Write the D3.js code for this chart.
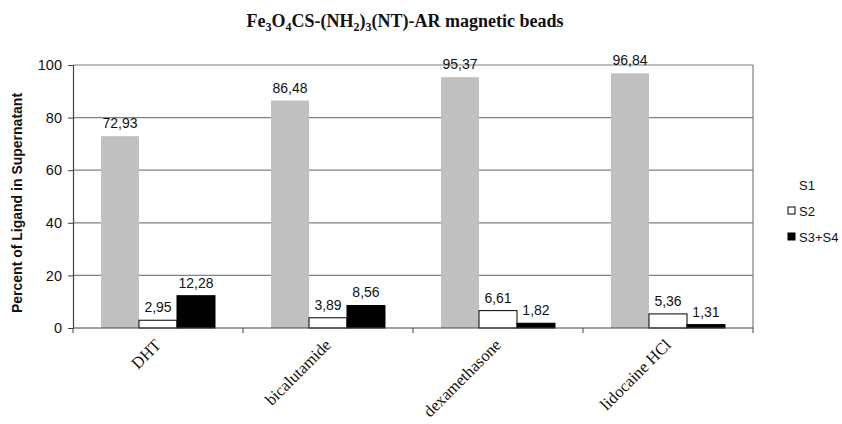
<!DOCTYPE html>
<html><head><meta charset="utf-8">
<script src="https://cdn.jsdelivr.net/npm/d3@7"></script>
<style>body{margin:0;background:#fff}svg{display:block}</style>
</head><body>
<svg id="c" width="842" height="424"></svg>
<script>
const categories = ["DHT", "bicalutamide", "dexamethasone", "lidocaine HCl"];
const seriesNames = ["S1", "S2", "S3+S4"];
const s1 = [72.93, 86.48, 95.37, 96.84];
const s2 = [2.95, 3.89, 6.61, 5.36];
const s34 = [12.28, 8.56, 1.82, 1.31];
const yTicks = [0, 20, 40, 60, 80, 100];

const seriesVals = [s1, s2, s34];
const fills = ["#c0c0c0", "#ffffff", "#000000"];
const strokes = ["none", "#000", "#000"];

const svg = d3.select("#c");
const L = 73, R = 753, T = 65, B = 328;

const y = d3.scaleLinear().domain([0, 100]).range([B, T]);
const x0 = d3.scaleBand().domain(categories).range([L, R]).paddingInner(0).paddingOuter(0);
const x1 = d3.scaleBand().domain(seriesNames).range([0, x0.bandwidth()]).paddingInner(0).paddingOuter(0.737);

// gridlines
svg.append("g").selectAll("line").data(yTicks.filter(d => d > 0)).join("line")
  .attr("x1", L).attr("x2", R).attr("y1", d => y(d)).attr("y2", d => y(d))
  .attr("stroke", "#808080").attr("stroke-width", 1.2);
// right border
svg.append("line").attr("x1", R).attr("x2", R).attr("y1", T).attr("y2", B)
  .attr("stroke", "#808080").attr("stroke-width", 1.2);

// bars
const fmt = v => v.toFixed(2).replace(".", ",");
seriesNames.forEach((s, si) => {
  const g = svg.append("g");
  g.selectAll("rect").data(categories).join("rect")
    .attr("x", c => x0(c) + x1(s))
    .attr("width", x1.bandwidth())
    .attr("y", (c, i) => y(seriesVals[si][i]))
    .attr("height", (c, i) => B - y(seriesVals[si][i]))
    .attr("fill", fills[si]).attr("stroke", strokes[si]).attr("stroke-width", 1);
  g.selectAll("text").data(categories).join("text")
    .attr("x", c => x0(c) + x1(s) + x1.bandwidth() / 2)
    .attr("y", (c, i) => y(seriesVals[si][i]) - 8)
    .attr("text-anchor", "middle")
    .attr("font-family", "Liberation Sans, Arial, sans-serif")
    .attr("font-size", 14).attr("fill", "#111")
    .text((c, i) => fmt(seriesVals[si][i]));
});

// y axis
const yAxis = d3.axisLeft(y).tickValues(yTicks).tickSize(5).tickPadding(6).tickFormat(d3.format("d"));
const ya = svg.append("g").attr("transform", `translate(${L},0)`).call(yAxis);
ya.select(".domain").attr("stroke", "#444").attr("stroke-width", 1.2);
ya.selectAll(".tick line").attr("stroke", "#444");
ya.selectAll("text").attr("font-family", "Liberation Sans, Arial, sans-serif").attr("font-size", 14.5).attr("fill", "#111");

// x axis
const xb = svg.append("g");
xb.append("line").attr("x1", L).attr("x2", R).attr("y1", B).attr("y2", B).attr("stroke", "#444").attr("stroke-width", 1.2);
const bounds = categories.map(c => x0(c)).concat([R]);
xb.selectAll("line.t").data(bounds).join("line").attr("class", "t")
  .attr("x1", d => d).attr("x2", d => d).attr("y1", B).attr("y2", B + 5).attr("stroke", "#444");
xb.selectAll("text").data(categories).join("text")
  .attr("transform", c => `translate(${x0(c) + x0.bandwidth() / 2 + 4},${B + 18}) rotate(-45)`)
  .attr("text-anchor", "end")
  .attr("font-family", "Liberation Serif, Times New Roman, serif")
  .attr("font-size", 16.5).attr("fill", "#111")
  .text(c => c);

// y title
svg.append("text")
  .attr("transform", `translate(22,203) rotate(-90)`)
  .attr("text-anchor", "middle")
  .attr("font-family", "Liberation Sans, Arial, sans-serif")
  .attr("font-size", 14).attr("font-weight", "bold").attr("fill", "#111")
  .text("Percent of Ligand in Supernatant");

// title
const title = svg.append("text").attr("x", 405).attr("y", 27).attr("text-anchor", "middle")
  .attr("font-family", "Liberation Serif, Times New Roman, serif")
  .attr("font-weight", "bold").attr("fill", "#111");
const parts = [["Fe", 0], ["3", 1], ["O", 0], ["4", 1], ["CS-(NH", 0], ["2", 1], [")", 0], ["3", 1], ["(NT)-AR  magnetic beads", 0]];
parts.forEach(([t, sub], i) => {
  const prev = i > 0 ? parts[i - 1][1] : 0;
  title.append("tspan").attr("font-size", sub ? 12 : 18)
    .attr("dy", sub && !prev ? 4 : (!sub && prev ? -4 : 0))
    .text(t);
});

// legend
const leg = svg.append("g");
seriesNames.forEach((s, i) => {
  const yy = 185 + i * 26;
  if (i > 0) {
    leg.append("rect").attr("x", 788).attr("y", yy - 4).attr("width", 7).attr("height", 7)
      .attr("fill", fills[i]).attr("stroke", "#000").attr("stroke-width", 1);
  }
  leg.append("text").attr("x", 799).attr("y", yy + 5)
    .attr("font-family", "Liberation Sans, Arial, sans-serif").attr("font-size", 13).attr("fill", "#111")
    .text(s);
});
</script>
</body></html>
